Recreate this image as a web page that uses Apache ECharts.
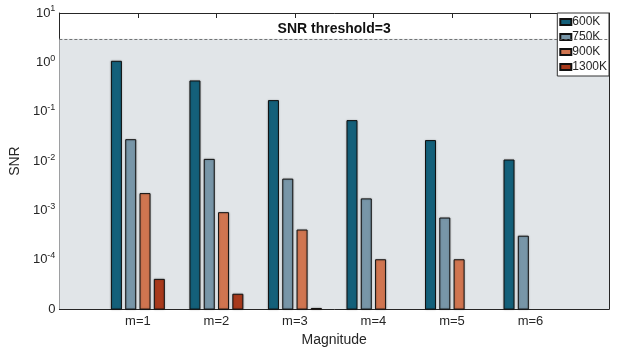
<!DOCTYPE html>
<html><head><meta charset="utf-8">
<script src="https://cdn.jsdelivr.net/npm/echarts@6/dist/echarts.min.js"></script>
<style>html,body{margin:0;padding:0;background:#fff}#c{width:620px;height:352px}</style>
</head><body><div id="c"></div>
<script>
const categories = ['', 'm=1', 'm=2', 'm=3', 'm=4', 'm=5', 'm=6', ''];
const seriesNames = ['600K', '750K', '900K', '1300K'];
const snr600 = ['-', 1.05, 0.42, 0.168, 0.066, 0.026, 0.0105, '-'];
const snr750 = ['-', 0.0271, 0.0108, 0.0043, 0.00171, 0.0007, 0.0003, '-'];
const snr900 = ['-', 0.00219, 0.0009, 0.0004, 0.0001, 0.0001, '-', '-'];
const snr1300 = ['-', 0.00004, 0.00002, 0.0000103, '-', '-', '-', '-'];
const threshold = 3;
const yMin = 1e-5, yMax = 10;

const colors = ['#14607a', '#7896a8', '#d07550', '#a83a1c'];
const allData = [snr600, snr750, snr900, snr1300];
const txt = '#262626';
const font = 'Liberation Sans, Arial, sans-serif';
const barW = 10, barStep = 14.3;

const series = seriesNames.map((n, i) => ({
  name: n, type: 'custom',
  data: allData[i].map((v, k) => v === '-' ? null : [k, v]).filter(d => d),
  encode: { x: 0, y: 1 },
  itemStyle: { color: colors[i], borderColor: '#111', borderWidth: 1,
    shadowColor: 'rgba(0,0,0,0.25)', shadowBlur: 2 },
  renderItem: (params, api) => {
    const k = api.value(0), v = api.value(1);
    const top = api.coord([k, v]);
    const base = api.coord([k, yMin]);
    const cx = top[0] + (i - 1.5) * barStep;
    return {
      type: 'rect',
      shape: { x: cx - barW / 2, y: top[1], width: barW, height: base[1] - top[1] },
      style: api.style()
    };
  },
  z: 3
}));
series.push({
  name: 'threshold', type: 'line', data: [], silent: true,
  markArea: {
    silent: true,
    itemStyle: { color: '#e1e5e8' },
    data: [[{ yAxis: yMin }, { yAxis: threshold }]]
  },
  markLine: {
    silent: true, symbol: 'none',
    lineStyle: { color: '#555', type: [3, 2], width: 0.8 },
    label: { formatter: 'SNR threshold=' + threshold, position: 'middle', color: '#111',
      fontWeight: 'bold', fontSize: 14, fontFamily: font, distance: 3 },
    data: [{ yAxis: threshold }]
  }
});

const chart = echarts.init(document.getElementById('c'), null, { renderer: 'canvas' });
chart.setOption({
  animation: false,
  textStyle: { fontFamily: font },
  grid: { left: 59, right: 11, top: 13, bottom: 39 },
  legend: {
    data: seriesNames, orient: 'vertical', right: 11, top: 13,
    icon: 'rect',
    itemWidth: 11, itemHeight: 6, itemGap: 3,
    padding: [3, 2, 3, 2],
    backgroundColor: '#fff', borderColor: '#333', borderWidth: 1,
    textStyle: { fontSize: 12, color: txt, fontFamily: font, padding: [0, 0, 0, -4] }
  },
  xAxis: [{
    type: 'category', data: categories, boundaryGap: false,
    name: 'Magnitude', nameLocation: 'middle', nameGap: 22,
    nameTextStyle: { fontSize: 14, color: txt },
    axisLine: { lineStyle: { color: txt, width: 1 } },
    axisTick: { inside: true, length: 5, lineStyle: { color: txt } },
    axisLabel: { color: txt, fontSize: 13, margin: 6 },
    splitLine: { show: false }
  }, {
    type: 'category', data: categories, boundaryGap: false, position: 'top',
    axisLine: { lineStyle: { color: txt, width: 1 } },
    axisTick: { inside: true, length: 5, lineStyle: { color: txt } },
    axisLabel: { show: false }
  }],
  yAxis: [{
    type: 'log', logBase: 10, min: yMin, max: yMax, interval: 1,
    name: 'SNR', nameLocation: 'middle', nameGap: 29,
    nameTextStyle: { fontSize: 14, color: txt },
    axisLine: { show: true, lineStyle: { color: txt, width: 1 } },
    axisTick: { show: true, inside: true, length: 5, lineStyle: { color: txt } },
    splitLine: { show: false },
    axisLabel: {
      margin: 4, color: txt,
      formatter: v => {
        const e = Math.round(Math.log10(v));
        if (e === -5) return '{b|0}';
        return '{b|10}{s|' + e + '}';
      },
      rich: {
        b: { fontSize: 13, color: txt, fontFamily: font },
        s: { fontSize: 9, color: txt, fontFamily: font, padding: [0, 0, 8, 0] }
      }
    }
  }, {
    type: 'log', logBase: 10, min: yMin, max: yMax, interval: 1, position: 'right',
    axisLine: { show: true, lineStyle: { color: txt, width: 1 } },
    axisTick: { show: true, inside: true, length: 5, lineStyle: { color: txt } },
    axisLabel: { show: false }, splitLine: { show: false }
  }],
  series: series
});
</script></body></html>
